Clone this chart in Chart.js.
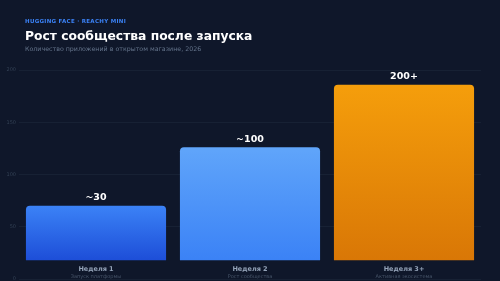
<!DOCTYPE html>
<html lang="ru">
<head>
<meta charset="utf-8">
<script src="https://cdn.jsdelivr.net/npm/chart.js@4"></script>
<style>
  html, body { margin: 0; padding: 0; background: #0f172a; }
  body { width: 500px; height: 281px; position: relative; overflow: hidden; font-family: "DejaVu Sans", sans-serif; }
  #kicker { position: absolute; left: 25px; top: 18px; font-size: 5.5px; font-weight: bold; letter-spacing: 0.3px; color: #3b82f6; }
  #titulo { position: absolute; left: 25px; top: 29px; font-size: 12.3px; font-weight: bold; color: #ffffff; }
  #sub { position: absolute; left: 25px; top: 45px; font-size: 6.3px; color: #64748b; }
  #wrap { position: absolute; left: 0; top: 0; width: 500px; height: 285px; }
</style>
</head>
<body>
<div id="wrap"><canvas id="grafico"></canvas></div>
<div id="kicker">HUGGING FACE · REACHY MINI</div>
<div id="titulo">Рост сообщества после запуска</div>
<div id="sub">Количество приложений в открытом магазине, 2026</div>
<script>
// Рост сообщества: три недели, столбцы с градиентом и подписями
const categorias = ["Неделя 1", "Неделя 2", "Неделя 3+"];
const subtitulos = ["Запуск платформы", "Рост сообщества", "Активная экосистема"];
const rotulosValor = ["~30", "~100", "200+"];
const baseBarras = [18, 18, 18];
const topoBarras = [70, 126, 186];
const ticksY = [0, 50, 100, 150, 200];

const GRADIENTES = [
  ["#3b82f6", "#1d4ed8"],
  ["#60a5fa", "#3b82f6"],
  ["#f59e0b", "#d97706"],
];

const rotulos = {
  id: "rotulos",
  afterDatasetsDraw(chart) {
    const ctx = chart.ctx;
    const meta = chart.getDatasetMeta(0);
    ctx.save();
    ctx.textAlign = "center";
    ctx.textBaseline = "middle";
    meta.data.forEach((bar, i) => {
      ctx.fillStyle = "#ffffff";
      ctx.font = "bold 9.5px 'DejaVu Sans'";
      ctx.fillText(rotulosValor[i], bar.x, bar.y - 8);
      ctx.fillStyle = "#94a3b8";
      ctx.font = "bold 6.5px 'DejaVu Sans'";
      ctx.fillText(categorias[i], bar.x, bar.base + 9);
      ctx.fillStyle = "#475569";
      ctx.font = "5px 'DejaVu Sans'";
      ctx.fillText(subtitulos[i], bar.x, bar.base + 17);
    });
    ctx.restore();
  },
};

function gradiente(context) {
  const chart = context.chart;
  const i = context.dataIndex;
  const cores = GRADIENTES[i];
  if (!chart.chartArea || !chart.scales.y) return cores[0];
  const y = chart.scales.y;
  const g = chart.ctx.createLinearGradient(0, y.getPixelForValue(topoBarras[i]), 0, y.getPixelForValue(baseBarras[i]));
  g.addColorStop(0, cores[0]);
  g.addColorStop(1, cores[1]);
  return g;
}

new Chart(document.getElementById("grafico"), {
  type: "bar",
  data: {
    labels: categorias,
    datasets: [{
      data: categorias.map((_, i) => [baseBarras[i], topoBarras[i]]),
      backgroundColor: gradiente,
      borderRadius: { topLeft: 4, topRight: 4, bottomLeft: 0, bottomRight: 0 },
      borderSkipped: false,
      barPercentage: 0.91,
      categoryPercentage: 1,
    }],
  },
  options: {
    responsive: true,
    maintainAspectRatio: false,
    animation: false,
    layout: { padding: { top: 70, bottom: 0, right: 19, left: 0 } },
    scales: {
      x: { display: false },
      y: {
        min: 0,
        max: 200,
        afterBuildTicks(scale) { scale.ticks = ticksY.map((v) => ({ value: v })); },
        afterFit(scale) { scale.width = 19; },
        border: { display: false },
        grid: { color: "rgba(148,163,184,0.07)", drawTicks: false },
        ticks: { color: "#334155", font: { size: 5, family: "DejaVu Sans" }, padding: 3 },
      },
    },
    plugins: { legend: { display: false }, tooltip: { enabled: false } },
  },
  plugins: [rotulos],
});
</script>
</body>
</html>
